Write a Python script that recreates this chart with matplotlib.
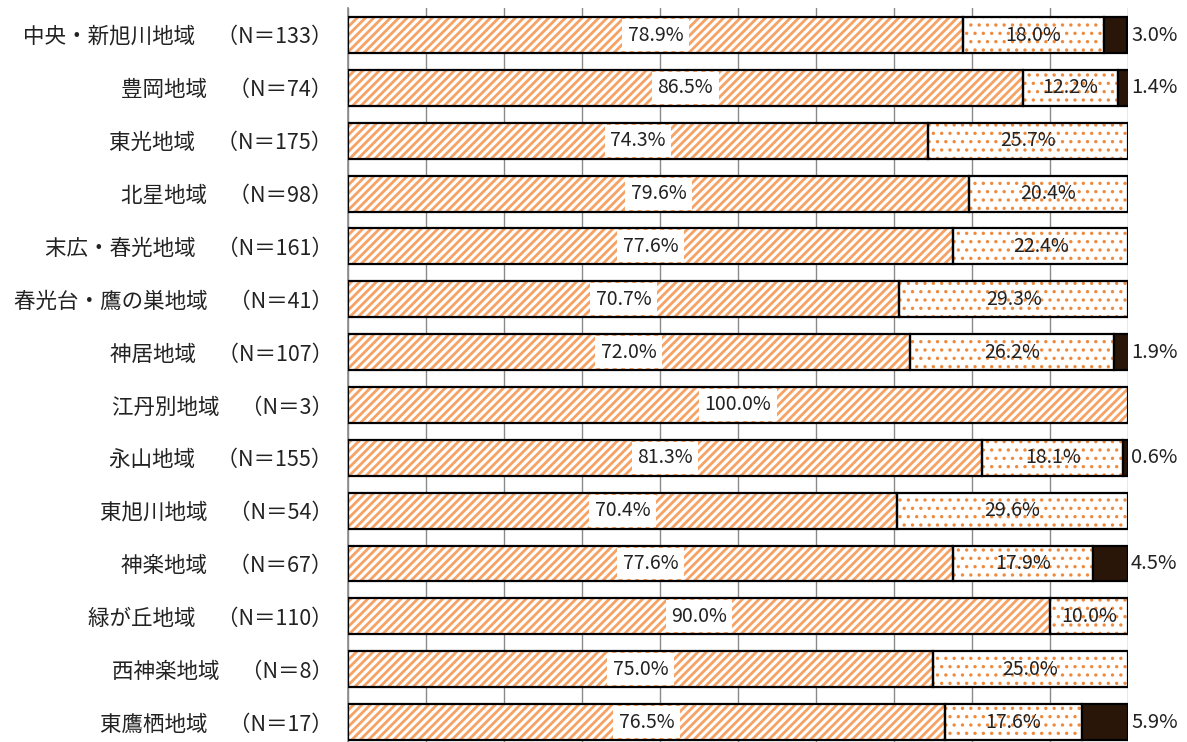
import matplotlib
matplotlib.use("Agg")
import matplotlib.pyplot as plt
import numpy as np

plt.rcParams["font.family"] = ["Noto Sans CJK JP", "DejaVu Sans"]

regions = [
    "中央・新旭川地域", "豊岡地域", "東光地域", "北星地域", "末広・春光地域",
    "春光台・鷹の巣地域", "神居地域", "江丹別地域", "永山地域", "東旭川地域",
    "神楽地域", "緑が丘地域", "西神楽地域", "東鷹栖地域",
]
counts = [133, 74, 175, 98, 161, 41, 107, 3, 155, 54, 67, 110, 8, 17]
share_a = [78.9, 86.5, 74.3, 79.6, 77.6, 70.7, 72.0, 100.0, 81.3, 70.4, 77.6, 90.0, 75.0, 76.5]
share_b = [18.0, 12.2, 25.7, 20.4, 22.4, 29.3, 26.2, 0.0, 18.1, 29.6, 17.9, 10.0, 25.0, 17.6]
share_c = [3.0, 1.4, 0.0, 0.0, 0.0, 0.0, 1.9, 0.0, 0.6, 0.0, 4.5, 0.0, 0.0, 5.9]

STRIPE = "#F6A265"
DOT = "#EF8A3C"
DARK = "#2A1608"
TEXT = "#222222"

W, H = 1187, 742
fig = plt.figure(figsize=(W / 100, H / 100), dpi=100)
ax = fig.add_axes([348 / W, 0, 780 / W, (H - 8) / H])

y = np.arange(len(regions))
height = 0.68
a = np.array(share_a)
b = np.array(share_b)
c = np.array(share_c)


def draw_segment(vals, left, face, hatch, hatch_color, hatch_lw):
    m = vals > 0
    with plt.rc_context({"hatch.linewidth": hatch_lw}):
        ax.barh(y[m], vals[m], left=left[m], height=height, color=face,
                hatch=hatch, edgecolor=hatch_color, linewidth=0, zorder=2)
    ax.barh(y[m], vals[m], left=left[m], height=height, fill=False,
            edgecolor="black", linewidth=1.6, zorder=3)


draw_segment(a, np.zeros_like(a), "white", "////", STRIPE, 2.0)
draw_segment(b, a, "white", "..", DOT, 1.2)
m = c > 0
ax.barh(y[m], c[m], left=(a + b)[m], height=height, color=DARK,
        edgecolor="black", linewidth=1.6, zorder=3)

for i in y:
    ax.text(a[i] / 2, i, f"{a[i]:.1f}%", ha="center", va="center",
            fontsize=14, color=TEXT, zorder=4,
            bbox=dict(boxstyle="square,pad=0.28", fc="white", ec="none"))
    if b[i] > 0:
        ax.text(a[i] + b[i] / 2, i, f"{b[i]:.1f}%", ha="center", va="center",
                fontsize=14, color=TEXT, zorder=4)
    if c[i] > 0:
        ax.annotate(f"{c[i]:.1f}%", xy=(100, i), xytext=(3, 0),
                    textcoords="offset pixels", ha="left", va="center",
                    fontsize=14.5, color=TEXT, annotation_clip=False)

ax.set_xlim(0, 100)
ax.set_ylim(13.377, -0.511)
ax.set_xticks(np.arange(0, 101, 10))
ax.set_xticklabels([])
ax.tick_params(axis="x", length=0)
ax.grid(axis="x", color="#8a8a8a", linewidth=1.0)
ax.set_axisbelow(True)

ax.set_yticks(y)
ax.set_yticklabels([f"{r}　（N＝{n}）" for r, n in zip(regions, counts)],
                   fontsize=15.5, color=TEXT)
ax.tick_params(axis="y", length=0, pad=11)

for side in ("top", "right", "bottom"):
    ax.spines[side].set_visible(False)
ax.spines["left"].set_color("#8a8a8a")
ax.spines["left"].set_linewidth(1.2)

fig.savefig("out.png", dpi=100)
